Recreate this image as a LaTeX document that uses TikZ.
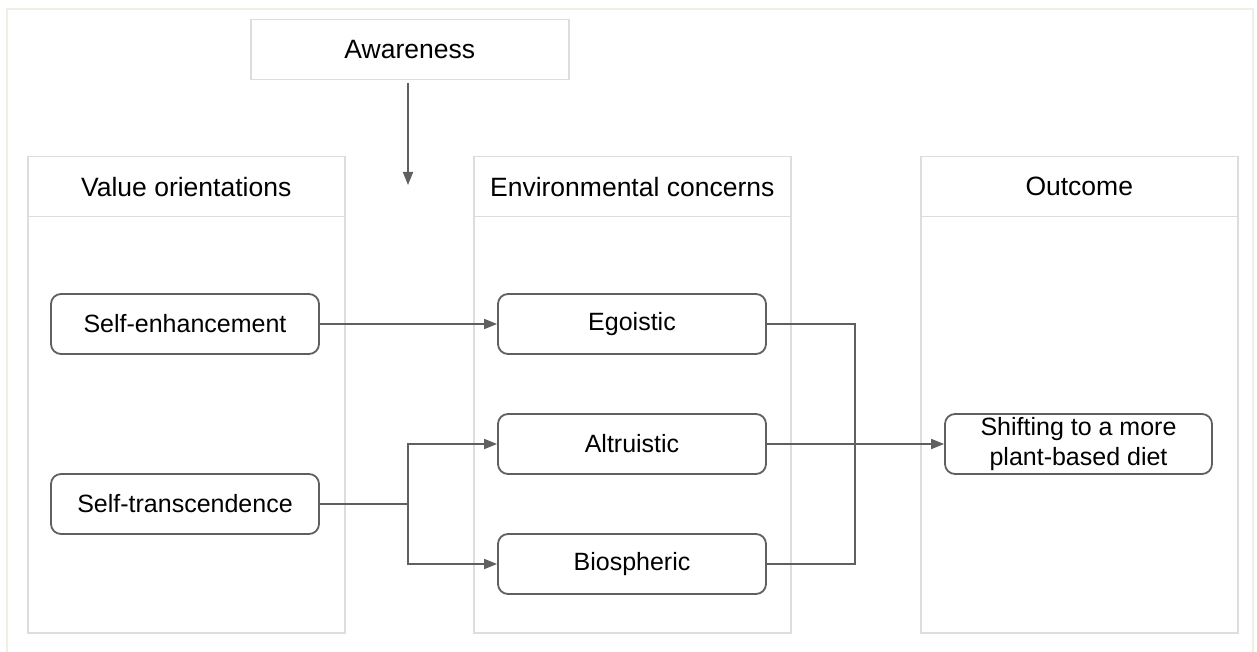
\documentclass[tikz,border=0pt]{standalone}
\usepackage{fontspec}
\setmainfont{Liberation Sans}
\usetikzlibrary{positioning, arrows.meta}
\definecolor{framebeige}{RGB}{239,239,228}
\definecolor{lanegray}{RGB}{221,221,221}
\definecolor{linegray}{RGB}{96,96,96}

\begin{document}
\begin{tikzpicture}[
        x=1pt, y=-1pt,
        lane/.style={rectangle, draw=lanegray, line width=1.5pt, minimum width=317pt, minimum height=476pt, anchor=north west, inner sep=0pt},
        lanehead/.style={rectangle, draw=lanegray, line width=1.5pt, minimum width=317pt, minimum height=60pt, anchor=north west, font=\fontsize{26.5}{30}\selectfont},
        itembox/.style={rectangle, rounded corners=10pt, draw=linegray, line width=1.8pt, minimum width=268pt, minimum height=60pt, align=center, inner sep=2pt, font=\fontsize{25}{30}\selectfont},
        arr/.style={-{Triangle[length=13pt, width=10pt]}, line width=1.8pt, linegray},
        link/.style={line width=1.8pt, linegray},
    ]
        \useasboundingbox (0,0) rectangle (1257,652);

        % Outer frame
        \draw[framebeige, line width=2pt] (7,652) -- (7,9) -- (1253,9) -- (1253,652);

        % Awareness
        \node[lanehead, minimum width=318pt] (aware) at (250,19) {Awareness};
        \coordinate (awtip) at (408,185);

        % Three lanes
        \node[lane] (valuelane) at (27,156) {};
        \node[lanehead] (valuehead) at (27,156) {Value orientations};
        \node[lane] (envlane) at (473,156) {};
        \node[lanehead] (envhead) at (473,156) {Environmental concerns};
        \node[lane] (outlane) at (920,156) {};
        \node[lanehead] (outhead) at (920,156) {Outcome};

        % Value orientations
        \node[itembox] (selfenh) at (185,324) {Self-enhancement};
        \node[itembox] (selftrans) at (185,504) {Self-transcendence};

        % Environmental concerns
        \node[itembox] (egoistic) at (632,324) {Egoistic};
        \node[itembox] (altruistic) at (632,444) {Altruistic};
        \node[itembox] (biospheric) at (632,564) {Biospheric};

        % Outcome
        \node[itembox, minimum width=267pt] (shift) at (1078.5,444) {Shifting to a more\\plant-based diet};

        % Junctions
        \coordinate (split) at (408,504);
        \coordinate (merge) at (855,444);

        % Arrows
        \draw[arr, shorten <=3pt] (aware.south -| awtip) -- (awtip);
        \draw[arr] (selfenh) -- (egoistic);
        \draw[link] (selftrans.east) -- (split);
        \draw[arr] (split) |- (altruistic.west);
        \draw[arr] (split) |- (biospheric.west);
        \draw[link] (egoistic.east) -| (merge);
        \draw[link] (biospheric.east) -| (merge);
        \draw[arr] (altruistic) -- (shift);
    \end{tikzpicture}
\end{document}
